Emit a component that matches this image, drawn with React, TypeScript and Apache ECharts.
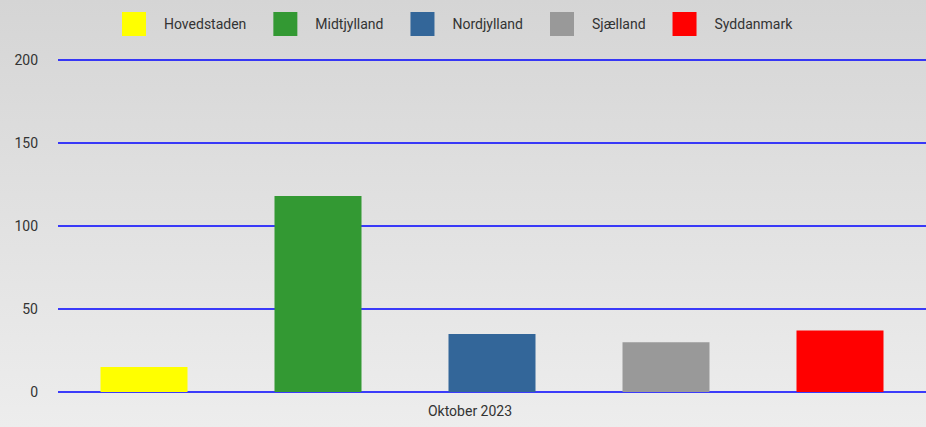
import React, { useEffect, useRef } from "react";
import * as echarts from "echarts";

const categories = ["Oktober 2023"];
const seriesNames = ["Hovedstaden", "Midtjylland", "Nordjylland", "Sjælland", "Syddanmark"];
const seriesValues = [[15], [118], [35], [30], [37]];
const seriesColors = ["#ffff00", "#339933", "#336699", "#999999", "#ff0000"];

export default function App() {
  const ref = useRef<HTMLDivElement>(null);
  useEffect(() => {
    if (!ref.current) return;
    const chart = echarts.init(ref.current, null, { renderer: "svg" });
    chart.setOption({
      animation: false,
      backgroundColor: new echarts.graphic.LinearGradient(0, 0, 0, 1, [
        { offset: 0, color: "#d5d5d5" },
        { offset: 1, color: "#ededed" },
      ]),
      textStyle: { fontFamily: "Roboto" },
      legend: {
        top: 7,
        left: 117,
        itemWidth: 24,
        itemHeight: 24,
        itemGap: 27,
        icon: "rect",
        textStyle: { fontSize: 14, color: "#333", padding: [0, 0, 0, 13] },
        data: seriesNames,
      },
      grid: { left: 58, right: 0, top: 60, bottom: 35, containLabel: false },
      xAxis: {
        type: "category",
        data: categories,
        axisLine: { show: false },
        axisTick: { show: false },
        axisLabel: { fontSize: 14, color: "#333", margin: 12, padding: [0, 44, 0, 0] },
      },
      yAxis: {
        type: "value",
        min: 0,
        max: 200,
        interval: 50,
        axisLine: { show: false },
        axisTick: { show: false },
        axisLabel: { fontSize: 14, color: "#333", margin: 20 },
        splitLine: { lineStyle: { color: "#0000ff", width: 1.5 } },
      },
      series: seriesNames.map((name, i) => ({
        name,
        type: "bar",
        data: seriesValues[i],
        barWidth: 87,
        barGap: "100%",
        itemStyle: { color: seriesColors[i] },
      })),
    });
    return () => chart.dispose();
  }, []);
  return <div ref={ref} style={{ width: 926, height: 427, position: "absolute", left: 0, top: 0 }} />;
}
